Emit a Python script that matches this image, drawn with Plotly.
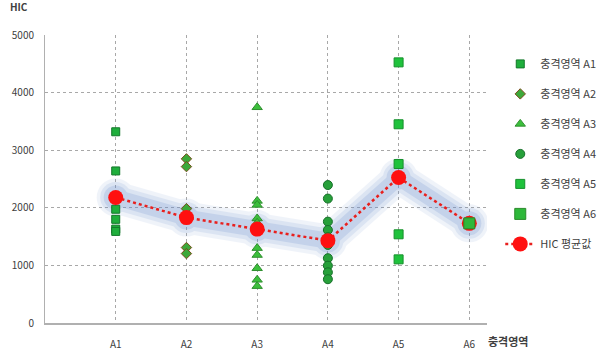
import plotly.graph_objects as go

categories = ["A1", "A2", "A3", "A4", "A5", "A6"]
series_names = ["충격영역 A1", "충격영역 A2", "충격영역 A3", "충격영역 A4", "충격영역 A5", "충격영역 A6"]
hic_a1 = [3320, 2640, 1975, 1800, 1630, 1590]
hic_a2 = [2850, 2715, 1985, 1850, 1310, 1205]
hic_a3 = [3745, 2120, 2050, 1815, 1740, 1615, 1300, 1180, 950, 750, 640]
hic_a4 = [2395, 2160, 1760, 1615, 1490, 1355, 1125, 995, 880, 760]
hic_a5 = [4525, 3450, 2760, 1540, 1105]
hic_a6 = [1730]
hic_mean = [2180, 1830, 1630, 1430, 2525, 1730]
mean_name = "HIC 평균값"
y_title = "HIC"
x_title = "충격영역"

series_values = [hic_a1, hic_a2, hic_a3, hic_a4, hic_a5, hic_a6]
symbols = ["square", "diamond", "triangle-up", "circle", "square", "square"]
fills = ["#1fae3c", "#3da83a", "#3cbf3c", "#27a03a", "#1fc23c", "#2eb83a"]
edges = ["#13782a", "#7a4a1a", "#2f8f2f", "#17702a", "#16902c", "#2a8a2a"]
sizes = [8, 8, 9, 9, 9, 11]

font_family = "Noto Sans CJK KR, Noto Sans, sans-serif"
fig = go.Figure()

# glow behind mean line
xs = list(range(1, len(categories) + 1))
for w, ms, op in [(32, 38, 0.10), (24, 31, 0.14), (16, 24, 0.2)]:
    fig.add_trace(go.Scatter(
        x=xs, y=hic_mean, mode="lines+markers",
        line=dict(color="#6a8ecf", width=w),
        marker=dict(color="#6a8ecf", size=ms),
        opacity=op, showlegend=False, hoverinfo="skip"))

for i, (name, vals) in enumerate(zip(series_names, series_values)):
    if i == 5:
        continue
    fig.add_trace(go.Scatter(
        x=[i + 1] * len(vals), y=vals, mode="markers", name=name,
        legendgroup=name, legendrank=i + 1,
        marker=dict(symbol=symbols[i], size=sizes[i], color=fills[i],
                    line=dict(color=edges[i], width=1))))

fig.add_trace(go.Scatter(
    x=xs, y=hic_mean, mode="lines+markers", name=mean_name,
    legendgroup=mean_name, legendrank=10,
    line=dict(color="#e8201e", width=2.5, dash="dot"),
    marker=dict(color="#ff1010", size=15, symbol="circle")))

fig.add_trace(go.Scatter(
    x=[6] * len(hic_a6), y=hic_a6, mode="markers", name=series_names[5],
    legendgroup=series_names[5], legendrank=6,
    marker=dict(symbol=symbols[5], size=sizes[5], color=fills[5],
                line=dict(color=edges[5], width=1))))

fig.update_layout(
    width=598, height=350,
    margin=dict(l=45, r=111, t=35, b=27, autoexpand=False),
    paper_bgcolor="white", plot_bgcolor="white",
    font=dict(family=font_family, size=10, color="#404040"),
    showlegend=True,
    legend=dict(x=1.03, xanchor="left", y=0.95, yanchor="top",
                font=dict(size=11, color="#404040"),
                tracegroupgap=11, bgcolor="rgba(0,0,0,0)",
                itemsizing="trace"),
    annotations=[
        dict(text="<b>" + y_title + "</b>", xref="paper", yref="paper",
             x=(8 - 45) / 442, y=1 + (35 - 7) / 288, xanchor="left", yanchor="middle",
             showarrow=False, font=dict(size=10, color="#404040")),
        dict(text="<b>" + x_title + "</b>", xref="paper", yref="paper",
             x=(486 - 45) / 442, y=-(341 - 323) / 288, xanchor="left", yanchor="middle",
             showarrow=False, font=dict(size=11, color="#404040")),
    ],
)
fig.update_xaxes(range=[0, 6.25], tickvals=xs, ticktext=categories,
                 showgrid=True, gridcolor="#a8a8a8", griddash="3px,3px", gridwidth=1,
                 showline=True, linecolor="#b0b0b0", linewidth=2,
                 zeroline=False, ticks="", ticklabelstandoff=11,
                 tickfont=dict(size=10, color="#404040"))
fig.update_yaxes(range=[0, 5000], dtick=1000, tickformat="d",
                 showgrid=True, gridcolor="#a8a8a8", griddash="3px,3px", gridwidth=1,
                 showline=True, linecolor="#b0b0b0", linewidth=1,
                 zeroline=False, ticks="", ticklabelstandoff=8,
                 tickfont=dict(size=10, color="#404040"))

fig.write_html("out.html")
